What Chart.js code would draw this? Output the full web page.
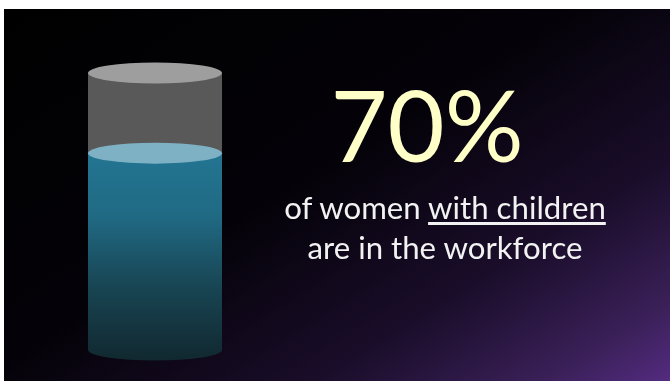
<!DOCTYPE html>
<html>
<head>
<meta charset="utf-8">
<script src="https://cdn.jsdelivr.net/npm/chart.js@4"></script>
<style>
  html, body { margin: 0; padding: 0; background: #fff; }
  #slide {
    position: absolute; left: 4px; top: 9px; width: 666px; height: 372px; overflow: hidden;
    background: linear-gradient(148deg, #000 0%, #040208 45%, #1a0d2a 72%, #3a2058 90%, #542b80 100%);
  }
  #wrap { position: absolute; left: 0; top: 0; width: 670px; height: 381px; }
  .txt { position: absolute; font-family: Lato, "Open Sans", sans-serif; text-align: center; white-space: nowrap; }
  #big { left: 327px; width: 200px; top: 68px; font-size: 98.5px; line-height: 112px; color: #ffffc8; }
  #sub { left: 245px; width: 400px; top: 187px; font-size: 31.2px; line-height: 40px; color: #f2f2f2; }
  #sub u { text-decoration-thickness: 3px; text-underline-offset: 3px; }
</style>
</head>
<body>
<div id="slide"></div>
<div id="wrap"><canvas id="myChart" width="670" height="381"></canvas></div>
<div class="txt" id="big"></div>
<div class="txt" id="sub">of women <u>with children</u><br>are in the workforce</div>
<script>
const categories = ['Women with children'];
const inWorkforce = [70];
const headroom = [28.5];

document.getElementById('big').textContent = inWorkforce[0] + '%';

const ctx = document.getElementById('myChart').getContext('2d');

const waterFill = ctx.createLinearGradient(0, 153, 0, 360);
waterFill.addColorStop(0, '#237592');
waterFill.addColorStop(0.3, '#206a84');
waterFill.addColorStop(0.65, '#184553');
waterFill.addColorStop(1, '#112830');

// caps and base of the cylinder, placed from the y scale
const cylinderCaps = {
  id: 'cylinderCaps',
  afterDatasetsDraw(chart) {
    const { ctx, scales: { x, y } } = chart;
    const cx = x.getPixelForValue(0);
    const rx = chart.chartArea.width / 2;
    const ry = 10.5;
    const ell = (val, color, start, end) => {
      ctx.beginPath();
      ctx.ellipse(cx, y.getPixelForValue(val), rx, ry, 0, start, end);
      ctx.fillStyle = color;
      ctx.fill();
    };
    ctx.save();
    ell(0, waterFill, 0, Math.PI);
    ell(inWorkforce[0], '#7fb1c5', 0, Math.PI * 2);
    ell(inWorkforce[0] + headroom[0], '#9e9e9e', 0, Math.PI * 2);
    ctx.restore();
  }
};

const myChart = new Chart(ctx, {
  type: 'bar',
  data: {
    labels: categories,
    datasets: [
      { label: 'In the workforce', data: inWorkforce, backgroundColor: waterFill },
      { label: 'Rest', data: headroom, backgroundColor: '#595959' }
    ]
  },
  options: {
    responsive: false,
    animation: false,
    layout: { padding: { left: 88, right: 448, top: 73, bottom: 31 } },
    barPercentage: 1,
    categoryPercentage: 1,
    plugins: { legend: { display: false }, tooltip: { enabled: false } },
    scales: {
      x: { stacked: true, display: false },
      y: { stacked: true, display: false, min: 0, max: 98.5 }
    }
  },
  plugins: [cylinderCaps]
});
</script>
</body>
</html>
